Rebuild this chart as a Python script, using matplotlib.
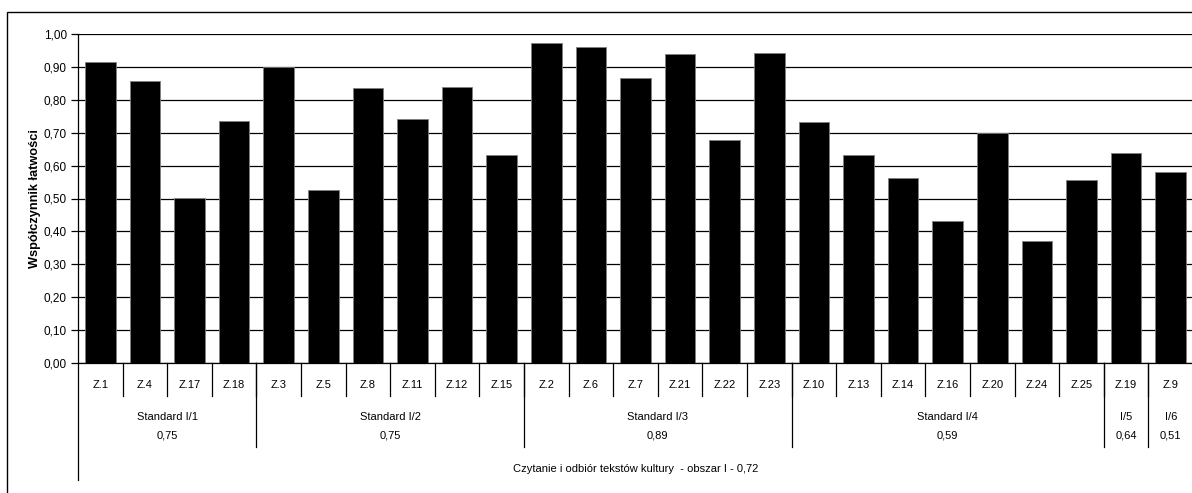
import matplotlib

matplotlib.use("Agg")
import matplotlib.pyplot as plt
from matplotlib.patches import Rectangle

plt.rcParams["font.family"] = ["Liberation Sans", "DejaVu Sans"]

tasks = ["Z.1", "Z.4", "Z.17", "Z.18",
         "Z.3", "Z.5", "Z.8", "Z.11", "Z.12", "Z.15",
         "Z.2", "Z.6", "Z.7", "Z.21", "Z.22", "Z.23",
         "Z.10", "Z.13", "Z.14", "Z.16", "Z.20", "Z.24", "Z.25",
         "Z.19", "Z.9"]
values = [0.915, 0.857, 0.502, 0.737,
          0.900, 0.526, 0.836, 0.742, 0.840, 0.632,
          0.972, 0.962, 0.866, 0.938, 0.679, 0.941,
          0.733, 0.631, 0.563, 0.433, 0.699, 0.372, 0.556,
          0.638, 0.580]
group_names = ["Standard I/1", "Standard I/2", "Standard I/3", "Standard I/4", "I/5", "I/6"]
group_scores = ["0,75", "0,75", "0,89", "0,59", "0,64", "0,51"]
group_sizes = [4, 6, 6, 7, 1, 1]
area_label = "Czytanie i odbiór tekstów kultury  - obszar I - 0,72"
y_ticks = [0.0, 0.1, 0.2, 0.3, 0.4, 0.5, 0.6, 0.7, 0.8, 0.9, 1.0]

W, H = 1192, 493
fig = plt.figure(figsize=(W / 100, H / 100), dpi=100)
# outer chart frame
fig.patches.append(Rectangle((7 / W, -0.1), 1.2, 1 - 12 / H + 0.1, transform=fig.transFigure,
                             fill=False, edgecolor="black", linewidth=1.0))

ax_left, ax_top, ax_bottom, ax_right = 78, 34, 363, 1193
ax = fig.add_axes([ax_left / W, 1 - ax_bottom / H, (ax_right - ax_left) / W, (ax_bottom - ax_top) / H])
ax_h = ax_bottom - ax_top

n = len(tasks)
xs = [i + 0.5 for i in range(n)]
ax.bar(xs, values, width=0.69, color="black", edgecolor="#808080", linewidth=0.6, zorder=3)

ax.set_xlim(0, n)
ax.set_ylim(0, 1.0)
ax.set_yticks(y_ticks)
ax.set_yticklabels([f"{v:.2f}".replace(".", ",") for v in y_ticks], fontsize=8.5)
ax.yaxis.grid(True, color="black", linewidth=0.9, zorder=0)
ax.set_xticks([])
for s in ["top", "right"]:
    ax.spines[s].set_visible(False)
ax.spines["left"].set_linewidth(0.9)
ax.spines["bottom"].set_linewidth(0.9)
ax.tick_params(axis="y", length=5, width=0.9, pad=3)
ax.set_ylabel("Współczynnik łatwości", fontsize=9.2, fontweight="bold", labelpad=2)


def ay(px):
    return -px / ax_h


tr = ax.get_xaxis_transform()
# level 1: tasks
for i, t in enumerate(tasks):
    ax.text(i + 0.5, ay(22), t, transform=tr, ha="center", va="center", fontsize=8, clip_on=False)
    if i > 0:
        ax.plot([i, i], [0, ay(33)], transform=tr, color="black", lw=0.9, clip_on=False)

# level 2: standards
start = 0
for name, score, size in zip(group_names, group_scores, group_sizes):
    mid = start + size / 2
    ax.text(mid, ay(54), name, transform=tr, ha="center", va="center", fontsize=8, clip_on=False)
    ax.text(mid, ay(73), score, transform=tr, ha="center", va="center", fontsize=8, clip_on=False)
    if start > 0:
        ax.plot([start, start], [0, ay(84)], transform=tr, color="black", lw=0.9, clip_on=False)
    start += size

# level 3: area
ax.plot([0, 0], [0, ay(117)], transform=tr, color="black", lw=0.9, clip_on=False)
ax.text(n / 2, ay(106), area_label, transform=tr, ha="center", va="center", fontsize=8, clip_on=False)

fig.savefig("out.png", dpi=100)
